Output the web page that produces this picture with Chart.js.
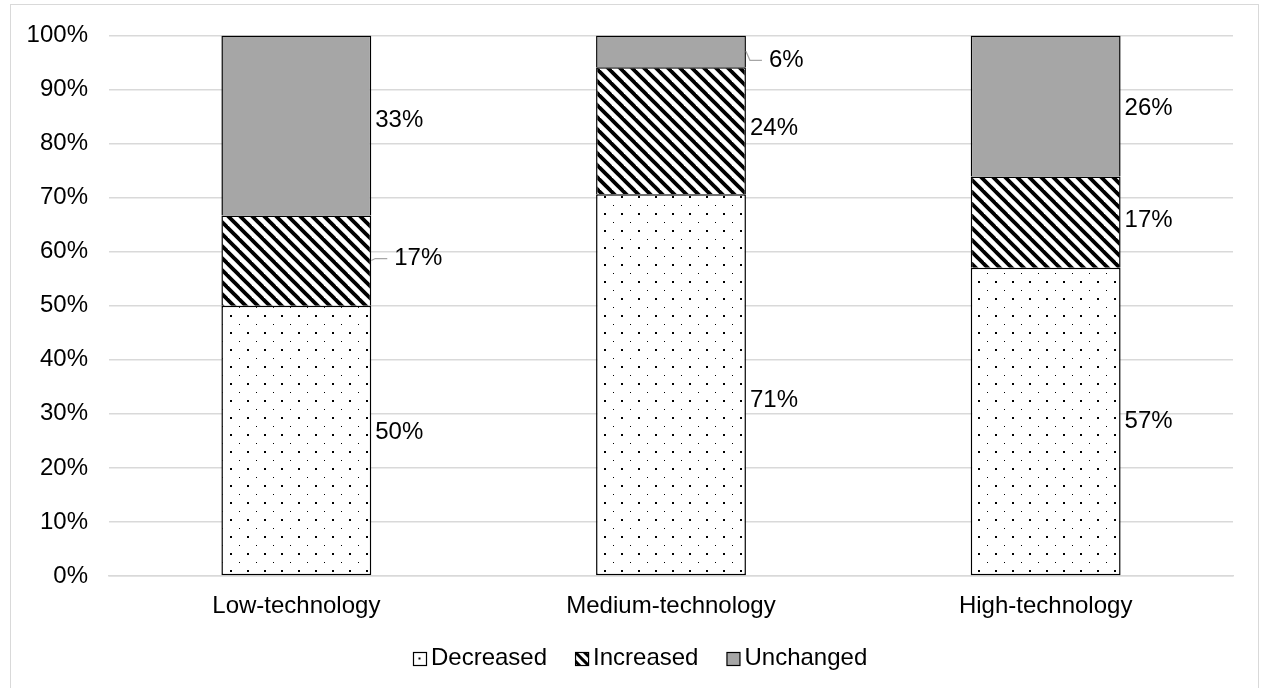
<!DOCTYPE html>
<html>
<head>
<meta charset="utf-8">
<script src="https://cdn.jsdelivr.net/npm/chart.js@4.4.1/dist/chart.umd.min.js"></script>
<style>
  html, body { margin: 0; padding: 0; background: #ffffff; }
  #wrap { width: 1261px; height: 688px; position: relative; }
</style>
</head>
<body>
<div id="wrap"><canvas id="c" width="1261" height="688"></canvas></div>
<script>
// Share of firms by technology level (percent of each group)
const categories = ['Low-technology', 'Medium-technology', 'High-technology'];
const seriesNames = ['Decreased', 'Increased', 'Unchanged'];
const decreased = [50.0, 70.6, 57.0];
const increased = [16.7, 23.5, 16.9];
const unchanged = [33.3, 5.9, 26.1];
const yTickValues = [0, 10, 20, 30, 40, 50, 60, 70, 80, 90, 100];

// Vertical nudges (px) for the value labels and which labels get a leader line
const labelNudge = [[-8, 16, 0], [-2, -2, -2], [-5, 9, 2]];
const labelLeader = [[false, false, false], [true, false, false], [false, true, false]];

const FONT = "'Liberation Sans', Arial, sans-serif";
const FSIZE = 24;
const GRID = '#d9d9d9';
const GREY = '#a6a6a6';

// Dotted fill: small and large dots on an offset grid
function dotPattern(ctx) {
  const t = document.createElement('canvas');
  t.width = 17; t.height = 17;
  const g = t.getContext('2d');
  g.fillStyle = '#ffffff'; g.fillRect(0, 0, 17, 17);
  g.fillStyle = '#000000';
  g.fillRect(1, 1, 1, 1);
  g.fillRect(9, 9, 2, 2);
  return ctx.createPattern(t, 'repeat');
}

// Wide downward diagonal stripes
function stripePattern(ctx) {
  const s = 12;
  const t = document.createElement('canvas');
  t.width = s; t.height = s;
  const g = t.getContext('2d');
  g.fillStyle = '#ffffff'; g.fillRect(0, 0, s, s);
  g.strokeStyle = '#000000';
  g.lineWidth = 3.8;
  for (let k = -1; k <= 1; k++) {
    g.beginPath();
    g.moveTo(-2, -2 + k * s);
    g.lineTo(s + 2, s + 2 + k * s);
    g.stroke();
  }
  return ctx.createPattern(t, 'repeat');
}

const canvas = document.getElementById('c');
const ctx = canvas.getContext('2d');
const fills = [dotPattern(ctx), stripePattern(ctx), GREY];

Chart.defaults.font.family = FONT;
Chart.defaults.font.size = FSIZE;
Chart.defaults.color = '#000000';

// Light frame around the whole chart
const framePlugin = {
  id: 'frame',
  beforeDraw(chart) {
    const c = chart.ctx;
    c.save();
    c.fillStyle = '#ffffff';
    c.fillRect(0, 0, chart.width, chart.height);
    c.strokeStyle = GRID;
    c.lineWidth = 1;
    c.strokeRect(10.5, 4.5, chart.width - 13, chart.height + 10);
    c.restore();
  }
};

// Percent labels to the right of each bar segment
const valueLabels = {
  id: 'valueLabels',
  afterDatasetsDraw(chart) {
    const c = chart.ctx;
    c.save();
    c.font = FSIZE + 'px ' + FONT;
    c.fillStyle = '#000000';
    c.textBaseline = 'middle';
    c.textAlign = 'left';
    chart.data.datasets.forEach((ds, di) => {
      const meta = chart.getDatasetMeta(di);
      meta.data.forEach((el, i) => {
        const p = el.getProps(['x', 'y', 'base', 'width'], true);
        const right = p.x + p.width / 2;
        const cy = (p.y + p.base) / 2;
        const ly = cy + labelNudge[di][i];
        const txt = Math.round(ds.data[i]) + '%';
        if (labelLeader[di][i]) {
          c.strokeStyle = GREY;
          c.lineWidth = 1.2;
          c.beginPath();
          c.moveTo(right, cy);
          c.lineTo(right + 4, ly);
          c.lineTo(right + 16, ly);
          c.stroke();
          c.fillText(txt, right + 23, ly);
        } else {
          c.fillText(txt, right + 4, ly);
        }
      });
    });
    c.restore();
  }
};

// Legend row under the category labels
const legendRow = {
  id: 'legendRow',
  afterDraw(chart) {
    const c = chart.ctx;
    c.save();
    c.font = FSIZE + 'px ' + FONT;
    const box = 13, gapText = 5, gapItem = 28;
    const widths = seriesNames.map(n => c.measureText(n).width);
    const total = widths.reduce((a, b) => a + b, 0) + seriesNames.length * (box + gapText) + gapItem * (seriesNames.length - 1);
    let x = Math.round(640 - total / 2);
    const baseY = 665;
    seriesNames.forEach((name, i) => {
      const bx = x + 0.5, by = baseY - box + 0.5;
      c.fillStyle = '#ffffff';
      c.fillRect(bx, by, box, box);
      if (i === 0) {
        c.fillStyle = '#000000';
        c.fillRect(bx + 5, by + 5, 2, 2);
      } else if (i === 1) {
        c.save();
        c.beginPath(); c.rect(bx, by, box, box); c.clip();
        c.strokeStyle = '#000000'; c.lineWidth = 3;
        for (let k = -1; k <= 1; k++) {
          c.beginPath();
          c.moveTo(bx - 2 + k * 9, by - 2);
          c.lineTo(bx + box + 2 + k * 9, by + box + 2);
          c.stroke();
        }
        c.restore();
      } else {
        c.fillStyle = GREY;
        c.fillRect(bx, by, box, box);
      }
      c.strokeStyle = '#000000';
      c.lineWidth = 1.2;
      c.strokeRect(bx, by, box, box);
      c.fillStyle = '#000000';
      c.textBaseline = 'alphabetic';
      c.textAlign = 'left';
      c.fillText(name, x + box + gapText, baseY);
      x += box + gapText + widths[i] + gapItem;
    });
    c.restore();
  }
};

const seriesValues = [decreased, increased, unchanged];

new Chart(ctx, {
  type: 'bar',
  data: {
    labels: categories,
    datasets: seriesNames.map((name, i) => ({
      label: name,
      data: seriesValues[i],
      backgroundColor: fills[i],
      borderColor: '#000000',
      borderWidth: 1.5,
      // upper segments share the line drawn by the segment below
      borderSkipped: i === 0 ? false : 'start',
      categoryPercentage: 1.0,
      barPercentage: 0.4
    }))
  },
  options: {
    responsive: false,
    animation: false,
    devicePixelRatio: 1,
    layout: { padding: { left: 10, right: 28, top: 34, bottom: 0 } },
    plugins: {
      legend: { display: false },
      tooltip: { enabled: false }
    },
    scales: {
      x: {
        stacked: true,
        grid: { display: false, drawTicks: false },
        border: { display: true, color: GRID, width: 1.5 },
        ticks: { padding: 16, font: { size: FSIZE, family: FONT }, color: '#000000' },
        afterFit(scale) { scale.height = 112; }
      },
      y: {
        stacked: true,
        min: 0,
        max: 100,
        afterBuildTicks(scale) { scale.ticks = yTickValues.map(v => ({ value: v })); },
        grid: { color: GRID, lineWidth: 1.5, drawTicks: false },
        border: { display: false },
        ticks: {
          padding: 21,
          font: { size: FSIZE, family: FONT },
          color: '#000000',
          callback: v => v + '%'
        },
        afterFit(scale) { scale.width = 99; }
      }
    }
  },
  plugins: [framePlugin, valueLabels, legendRow]
});
</script>
</body>
</html>
